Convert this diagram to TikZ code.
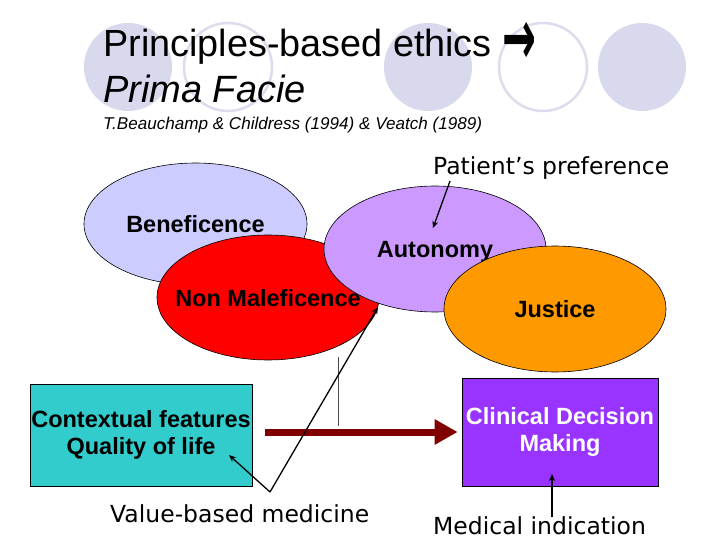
\documentclass[tikz,border=0pt]{standalone}
\usepackage{fontspec}
\setmainfont{Liberation Sans}
\newfontfamily\dejavu{DejaVu Sans}
\usetikzlibrary{shapes.geometric,arrows.meta}
\definecolor{circfill}{RGB}{217,217,237}
\definecolor{circline}{RGB}{220,220,236}
\definecolor{benef}{RGB}{204,204,255}
\definecolor{nonmal}{RGB}{255,0,0}
\definecolor{auton}{RGB}{204,153,255}
\definecolor{justi}{RGB}{255,153,0}
\definecolor{ctxcyan}{RGB}{51,204,204}
\definecolor{cdmpurple}{RGB}{153,51,255}
\definecolor{arrowred}{RGB}{128,0,0}
\begin{document}
\begin{tikzpicture}[x=1pt,y=-1pt,
  deco/.style={circle, minimum size=88pt, inner sep=0pt},
  decofill/.style={deco, fill=circfill},
  decoring/.style={deco, draw=circline, line width=2.5pt, fill=white},
  principle/.style={ellipse, draw=black, line width=0.6pt, inner sep=0pt},
  ptext/.style={inner sep=0pt, text depth=0pt, font=\fontsize{23.5}{27}\selectfont\bfseries},
  box/.style={rectangle, draw=black, line width=0.6pt, inner sep=0pt, align=center,
    font=\fontsize{23.5}{27}\selectfont\bfseries},
  note/.style={anchor=base west, inner sep=0pt, font=\dejavu\fontsize{23.5}{27}\selectfont},
  heading/.style={anchor=base west, inner sep=0pt},
  arr/.style={-{Stealth[length=7pt,width=6pt]}, line width=1.3pt},
  bigarrow/.style={arrowred, line width=7pt, -{Triangle[length=23pt,width=24pt]}},
  guide/.style={black!70, line width=0.8pt},
]
\useasboundingbox (0,0) rectangle (720,540);
\fill[white] (0,0) rectangle (720,540);

% decorative circles
\node[decofill] (c1) at (128,67) {};
\node[decoring] (c2) at (228,67) {};
\node[decofill] (c3) at (428,67) {};
\node[decoring] (c4) at (543,67) {};
\node[decofill] (c5) at (642,67) {};

% titles
\node[heading, font=\fontsize{37.8}{44}\selectfont] (title) at (103,57)
  {Principles-based ethics {\dejavu\bfseries\fontsize{46}{46}\selectfont\raisebox{-0.3ex}{\scalebox{0.88}[1.7]{→}}}};
\node[heading, font=\fontsize{38}{44}\selectfont\itshape] (prima) at (103,103) {Prima Facie};
\node[heading, font=\fontsize{17.1}{20}\selectfont\itshape] (cite) at (103,130)
  {T.Beauchamp \& Childress (1994) \& Veatch (1989)};

% principles
\node[principle, fill=benef, minimum width=223pt, minimum height=122pt,
  label={[ptext]center:Beneficence}] (ben) at (195.5,224) {};
\node[principle, fill=nonmal, minimum width=222pt, minimum height=125pt,
  label={[ptext]center:Non Maleficence}] (nm) at (268,297.5) {};
\node[principle, fill=auton, minimum width=222pt, minimum height=126pt,
  label={[ptext]center:Autonomy}] (aut) at (435,249) {};
\node[principle, fill=justi, minimum width=222pt, minimum height=126pt,
  label={[ptext]center:Justice}] (jus) at (555,309) {};

% boxes
\node[box, fill=ctxcyan, minimum width=222pt, minimum height=102pt] (ctx) at (141,435)
  {Contextual features\\Quality of life};
\node[box, fill=cdmpurple, text=white, minimum width=196pt, minimum height=108pt] (cdm) at (560,432)
  {Clinical Decision\\Making};

% big arrow
\draw[bigarrow] ([xshift=13pt,yshift=3pt]ctx.east) -- ([xshift=-4pt]cdm.west);

% thin vertical line
\coordinate (vtop) at (338,357);
\coordinate (vbot) at (338,426);
\draw[guide] (vtop) -- (vbot);

% notes
\node[note] (pp) at (433,175) {Patient’s preference};
\node[note] (vbm) at (110,522) {Value-based medicine};
\node[note] (mi) at (433,534) {Medical indication};

\coordinate (ppS) at (450,181);
\coordinate (ppE) at (433,228);
\draw[arr] (ppS) -- (ppE);

\coordinate (vbA) at (270,492);
\coordinate (vbNM) at (378,307);
\coordinate (vbQL) at (229,455);
\draw[arr] (vbA) -- (vbNM);
\draw[arr] (vbA) -- (vbQL);

\coordinate (miS) at (552,517);
\coordinate (miE) at (552,474);
\draw[arr] (miS) -- (miE);
\end{tikzpicture}
\end{document}
